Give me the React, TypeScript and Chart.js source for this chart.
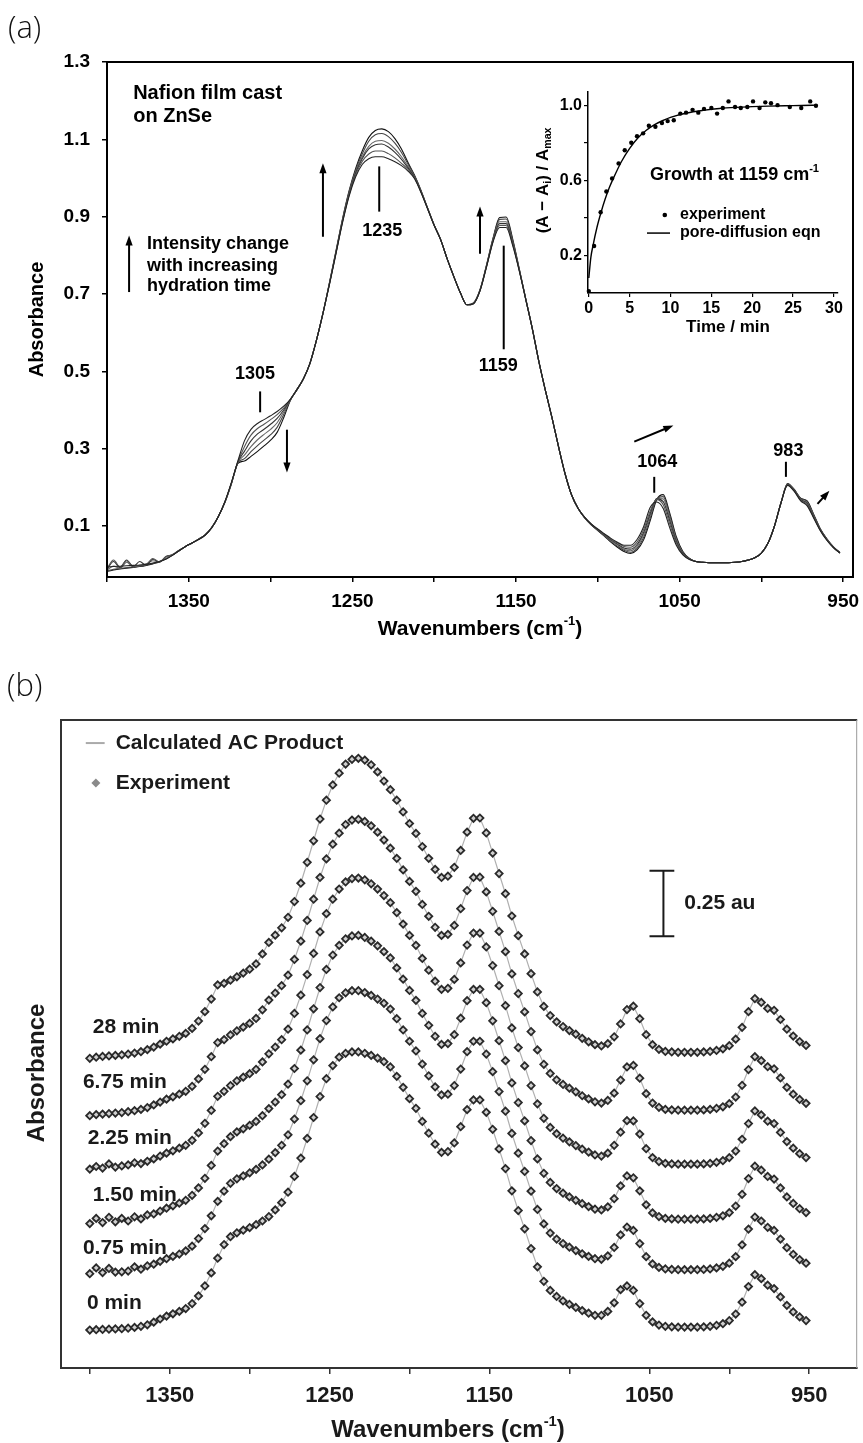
import React, { useEffect, useRef } from 'react';
import { Chart, registerables } from 'chart.js';
Chart.register(...registerables);

const FONT = '"Liberation Sans", Arial, Helvetica, sans-serif';
const f = (size: number, weight = 'bold') => `${weight} ${size}px ${FONT}`;

// ---------- shared spectral data (absorbance vs wavenumber) ----------
const wavenumbers = [
  1400, 1396, 1392, 1388, 1384, 1380, 1376, 1372, 1368, 1364,
  1360, 1356, 1352, 1348, 1344, 1340, 1336, 1332, 1328, 1324,
  1320, 1316, 1312, 1308, 1304, 1300, 1296, 1292, 1288, 1284,
  1280, 1276, 1272, 1268, 1264, 1260, 1256, 1252, 1248, 1244,
  1240, 1236, 1232, 1228, 1224, 1220, 1216, 1212, 1208, 1204,
  1200, 1196, 1192, 1188, 1184, 1180, 1176, 1172, 1168, 1164,
  1160, 1156, 1152, 1148, 1144, 1140, 1136, 1132, 1128, 1124,
  1120, 1116, 1112, 1108, 1104, 1100, 1096, 1092, 1088, 1084,
  1080, 1076, 1072, 1068, 1064, 1060, 1056, 1052, 1048, 1044,
  1040, 1036, 1032, 1028, 1024, 1020, 1016, 1012, 1008, 1004,
  1000, 996, 992, 988, 984, 980, 976, 972, 968, 964,
  960, 956, 952,
];

const spec0min = [
  -0.006, -0.005, -0.004, -0.003, -0.002, -0.001, 0.001, 0.004, 0.008, 0.014,
  0.024, 0.036, 0.047, 0.056, 0.065, 0.076, 0.095, 0.124, 0.162, 0.212,
  0.268, 0.32, 0.35, 0.365, 0.375, 0.385, 0.396, 0.41, 0.427, 0.452,
  0.48, 0.52, 0.58, 0.65, 0.725, 0.805, 0.885, 0.953, 1.003, 1.035,
  1.05, 1.055, 1.055, 1.05, 1.042, 1.032, 1.018, 0.998, 0.962, 0.92,
  0.877, 0.84, 0.79, 0.745, 0.703, 0.672, 0.675, 0.708, 0.77, 0.835,
  0.872, 0.872, 0.825, 0.76, 0.685, 0.61, 0.525, 0.45, 0.38, 0.305,
  0.235, 0.18, 0.145, 0.122, 0.105, 0.092, 0.08, 0.068, 0.058, 0.05,
  0.05, 0.065, 0.098, 0.148, 0.162, 0.145, 0.095, 0.05, 0.025, 0.013,
  0.008, 0.006, 0.005, 0.005, 0.005, 0.005, 0.006, 0.008, 0.012, 0.018,
  0.03, 0.055, 0.1, 0.16, 0.205, 0.19, 0.165, 0.152, 0.12, 0.088,
  0.063, 0.044, 0.03,
];
const spec075min = [
  -0.01, 0.012, -0.006, 0.01, -0.004, -0.003, 0.0, 0.016, 0.007, 0.02,
  0.026, 0.037, 0.047, 0.056, 0.065, 0.077, 0.095, 0.124, 0.162, 0.211,
  0.266, 0.305, 0.335, 0.352, 0.363, 0.375, 0.388, 0.405, 0.427, 0.452,
  0.48, 0.52, 0.58, 0.65, 0.726, 0.806, 0.887, 0.956, 1.008, 1.043,
  1.062, 1.07, 1.07, 1.063, 1.052, 1.038, 1.022, 1.0, 0.963, 0.92,
  0.877, 0.84, 0.79, 0.745, 0.703, 0.672, 0.675, 0.708, 0.771, 0.837,
  0.877, 0.877, 0.828, 0.761, 0.685, 0.61, 0.525, 0.45, 0.38, 0.305,
  0.235, 0.18, 0.145, 0.122, 0.105, 0.091, 0.078, 0.066, 0.056, 0.047,
  0.045, 0.058, 0.09, 0.138, 0.168, 0.155, 0.105, 0.055, 0.027, 0.014,
  0.008, 0.006, 0.005, 0.005, 0.005, 0.005, 0.006, 0.008, 0.012, 0.018,
  0.03, 0.055, 0.1, 0.16, 0.206, 0.191, 0.167, 0.155, 0.122, 0.089,
  0.064, 0.044, 0.03,
];
const spec150min = [
  -0.012, 0.008, -0.008, 0.012, -0.005, 0.008, -0.002, 0.014, 0.006, 0.021,
  0.025, 0.036, 0.047, 0.056, 0.066, 0.077, 0.096, 0.124, 0.161, 0.21,
  0.265, 0.293, 0.32, 0.338, 0.35, 0.363, 0.378, 0.4, 0.427, 0.452,
  0.48, 0.52, 0.58, 0.65, 0.727, 0.808, 0.889, 0.958, 1.013, 1.05,
  1.075, 1.086, 1.088, 1.08, 1.066, 1.048, 1.026, 1.002, 0.964, 0.921,
  0.878, 0.84, 0.79, 0.745, 0.703, 0.672, 0.675, 0.709, 0.772, 0.839,
  0.882, 0.882, 0.831, 0.762, 0.686, 0.61, 0.525, 0.45, 0.38, 0.305,
  0.235, 0.18, 0.145, 0.122, 0.104, 0.09, 0.077, 0.064, 0.053, 0.043,
  0.04, 0.052, 0.083, 0.132, 0.17, 0.163, 0.113, 0.06, 0.029, 0.015,
  0.008, 0.006, 0.005, 0.005, 0.005, 0.005, 0.006, 0.008, 0.012, 0.018,
  0.03, 0.055, 0.1, 0.16, 0.207, 0.192, 0.168, 0.158, 0.124, 0.09,
  0.065, 0.045, 0.03,
];
const spec225min = [
  -0.014, -0.004, -0.01, 0.006, -0.006, -0.002, 0.002, 0.01, 0.007, 0.016,
  0.025, 0.036, 0.047, 0.056, 0.066, 0.077, 0.096, 0.124, 0.161, 0.21,
  0.264, 0.283, 0.305, 0.323, 0.337, 0.35, 0.367, 0.395, 0.426, 0.452,
  0.48, 0.52, 0.58, 0.65, 0.728, 0.809, 0.891, 0.961, 1.016, 1.055,
  1.082, 1.095, 1.097, 1.09, 1.075, 1.055, 1.03, 1.003, 0.965, 0.921,
  0.878, 0.84, 0.79, 0.745, 0.703, 0.672, 0.676, 0.71, 0.773, 0.841,
  0.887, 0.887, 0.834, 0.763, 0.686, 0.61, 0.525, 0.45, 0.38, 0.305,
  0.235, 0.18, 0.145, 0.121, 0.104, 0.09, 0.076, 0.062, 0.051, 0.04,
  0.036, 0.047, 0.077, 0.127, 0.171, 0.17, 0.12, 0.064, 0.03, 0.015,
  0.008, 0.006, 0.005, 0.005, 0.005, 0.005, 0.006, 0.008, 0.012, 0.018,
  0.03, 0.055, 0.1, 0.16, 0.208, 0.193, 0.169, 0.16, 0.126, 0.091,
  0.066, 0.045, 0.03,
];
const spec675min = [
  -0.016, -0.012, -0.01, -0.008, -0.006, -0.004, -0.001, 0.003, 0.008, 0.015,
  0.025, 0.036, 0.047, 0.056, 0.066, 0.077, 0.096, 0.124, 0.161, 0.209,
  0.263, 0.274, 0.292, 0.308, 0.322, 0.336, 0.355, 0.388, 0.425, 0.452,
  0.48, 0.52, 0.58, 0.65, 0.729, 0.81, 0.893, 0.964, 1.02, 1.062,
  1.095, 1.112, 1.115, 1.107, 1.09, 1.066, 1.036, 1.005, 0.966, 0.922,
  0.878, 0.84, 0.79, 0.745, 0.703, 0.672, 0.676, 0.71, 0.774, 0.843,
  0.893, 0.894, 0.838, 0.764, 0.687, 0.61, 0.525, 0.45, 0.38, 0.305,
  0.235, 0.18, 0.145, 0.121, 0.103, 0.089, 0.075, 0.06, 0.048, 0.037,
  0.032, 0.042, 0.07, 0.12, 0.17, 0.176, 0.127, 0.068, 0.032, 0.016,
  0.008, 0.006, 0.005, 0.005, 0.005, 0.005, 0.006, 0.008, 0.012, 0.018,
  0.03, 0.055, 0.1, 0.16, 0.209, 0.194, 0.171, 0.163, 0.128, 0.092,
  0.066, 0.046, 0.031,
];
const spec28min = [
  -0.018, -0.014, -0.011, -0.009, -0.007, -0.005, -0.002, 0.002, 0.007, 0.015,
  0.025, 0.036, 0.047, 0.056, 0.066, 0.077, 0.096, 0.124, 0.16, 0.208,
  0.262, 0.268, 0.28, 0.293, 0.307, 0.322, 0.342, 0.38, 0.424, 0.452,
  0.48, 0.52, 0.58, 0.65, 0.73, 0.812, 0.895, 0.967, 1.025, 1.07,
  1.105, 1.123, 1.127, 1.12, 1.102, 1.075, 1.04, 1.007, 0.967, 0.922,
  0.878, 0.84, 0.79, 0.745, 0.703, 0.672, 0.677, 0.711, 0.775, 0.845,
  0.898, 0.899, 0.842, 0.765, 0.687, 0.61, 0.525, 0.45, 0.38, 0.305,
  0.235, 0.18, 0.145, 0.121, 0.103, 0.088, 0.074, 0.058, 0.045, 0.034,
  0.029, 0.038, 0.064, 0.113, 0.168, 0.181, 0.133, 0.072, 0.034, 0.016,
  0.008, 0.006, 0.005, 0.005, 0.005, 0.005, 0.006, 0.008, 0.012, 0.018,
  0.03, 0.055, 0.1, 0.16, 0.21, 0.195, 0.172, 0.165, 0.13, 0.093,
  0.067, 0.046, 0.031,
];

const spectra = [spec0min, spec075min, spec150min, spec225min, spec675min, spec28min];
const timeLabels = ['0 min', '0.75 min', '1.50 min', '2.25 min', '6.75 min', '28 min'];
const stackOffsetsB = [0.151, 0.37, 0.563, 0.773, 0.979, 1.2];

// ---------- axes ----------
const xTickValuesA = [1400, 1350, 1300, 1250, 1200, 1150, 1100, 1050, 1000, 950];
const xTickLabels = [1350, 1250, 1150, 1050, 950];
const yTickValuesA = [0.1, 0.3, 0.5, 0.7, 0.9, 1.1, 1.3];

// ---------- inset: growth at 1159 cm-1 ----------
const expTime = [0, 0.65, 1.45, 2.15, 2.85, 3.65, 4.4, 5.2, 5.9, 6.65, 7.35, 8.15, 8.95, 9.65, 10.4, 11.2, 11.9, 12.7, 13.4, 14.1, 15.0, 15.7, 16.4, 17.1, 17.9, 18.6, 19.4, 20.1, 20.9, 21.6, 22.3, 23.1, 24.6, 26.0, 27.1, 27.8];
const expValue = [0.01, 0.25, 0.43, 0.54, 0.61, 0.69, 0.76, 0.8, 0.835, 0.85, 0.89, 0.885, 0.905, 0.915, 0.92, 0.955, 0.96, 0.975, 0.96, 0.98, 0.985, 0.955, 0.985, 1.02, 0.99, 0.985, 0.99, 1.02, 0.985, 1.015, 1.01, 1.0, 0.99, 0.985, 1.02, 0.997];
const fitTime = [0, 0.25, 0.5, 1, 1.5, 2, 2.5, 3, 4, 5, 6, 7, 8, 9, 10, 12, 14, 16, 18, 20, 22, 24, 26, 28];
const fitValue = [0.08, 0.19, 0.25, 0.35, 0.43, 0.5, 0.56, 0.61, 0.7, 0.77, 0.825, 0.865, 0.895, 0.917, 0.935, 0.958, 0.972, 0.982, 0.988, 0.992, 0.995, 0.997, 0.998, 1.0];
const insetXTicks = [0, 5, 10, 15, 20, 25, 30];
const insetYTicks = [0.2, 0.4, 0.6, 0.8, 1.0];
const insetYLabels = [0.2, 0.6, 1.0];

// ---------- annotations (data coordinates) ----------
const annotTextsA = [
  { text: 'Nafion film cast', w: 1384, a: 1.219, size: 20, align: 'left' },
  { text: 'on ZnSe', w: 1384, a: 1.16, size: 20, align: 'left' },
  { text: 'Intensity change', w: 1375.5, a: 0.83, size: 18, align: 'left' },
  { text: 'with increasing', w: 1375.5, a: 0.773, size: 18, align: 'left' },
  { text: 'hydration time', w: 1375.5, a: 0.72, size: 18, align: 'left' },
  { text: '1235', w: 1231.8, a: 0.864, size: 18, align: 'center' },
  { text: '1159', w: 1160.9, a: 0.513, size: 18, align: 'center' },
  { text: '1305', w: 1309.5, a: 0.492, size: 18, align: 'center' },
  { text: '1064', w: 1063.6, a: 0.266, size: 18, align: 'center' },
  { text: '983', w: 983.5, a: 0.295, size: 18, align: 'center' },
];
const peakTicksA = [
  { w: 1233.6, a1: 1.03, a2: 0.913 },
  { w: 1157.5, a1: 0.825, a2: 0.557 },
  { w: 1306.4, a1: 0.448, a2: 0.394 },
  { w: 1065.5, a1: 0.227, a2: 0.186 },
  { w: 985, a1: 0.266, a2: 0.227 },
];
const arrowsA = [
  { w1: 1386.5, a1: 0.705, w2: 1386.5, a2: 0.851 },
  { w1: 1268, a1: 0.848, w2: 1268, a2: 1.038 },
  { w1: 1172, a1: 0.804, w2: 1172, a2: 0.926 },
  { w1: 1290, a1: 0.349, w2: 1290, a2: 0.238 },
  { w1: 1077.7, a1: 0.318, w2: 1053.8, a2: 0.36 },
  { w1: 965.7, a1: 0.157, w2: 958.4, a2: 0.191 },
];
const timeLabelPosB = [
  { w: 1401.8, a: 0.248 },
  { w: 1404.3, a: 0.458 },
  { w: 1398.1, a: 0.66 },
  { w: 1401.2, a: 0.878 },
  { w: 1404.3, a: 1.092 },
  { w: 1398.1, a: 1.302 },
];

type Part = [string, number];
function drawRich(ctx: CanvasRenderingContext2D, parts: Part[], x: number, y: number, size: number, align = 'center', color = '#000') {
  const widths = parts.map(([t, m]) => {
    ctx.font = f(m ? size * 0.62 : size);
    return ctx.measureText(t).width;
  });
  const total = widths.reduce((p, c) => p + c, 0);
  let cx = align === 'center' ? x - total / 2 : align === 'right' ? x - total : x;
  ctx.textAlign = 'left';
  ctx.textBaseline = 'middle';
  ctx.fillStyle = color;
  parts.forEach(([t, m], i) => {
    ctx.font = f(m ? size * 0.62 : size);
    const dy = m === 1 ? -size * 0.34 : m === -1 ? size * 0.3 : 0;
    ctx.fillText(t, cx, y + dy);
    cx += widths[i];
  });
}

function drawArrow(ctx: CanvasRenderingContext2D, x1: number, y1: number, x2: number, y2: number, head = 10, half = 3.6, lw = 2) {
  const ang = Math.atan2(y2 - y1, x2 - x1);
  const c = Math.cos(ang), s = Math.sin(ang);
  ctx.lineWidth = lw;
  ctx.beginPath();
  ctx.moveTo(x1, y1);
  ctx.lineTo(x2 - c * head * 0.8, y2 - s * head * 0.8);
  ctx.stroke();
  ctx.beginPath();
  ctx.moveTo(x2, y2);
  ctx.lineTo(x2 - head * c + half * s, y2 - head * s - half * c);
  ctx.lineTo(x2 - head * c - half * s, y2 - head * s + half * c);
  ctx.closePath();
  ctx.fill();
}

const panelAPlugin = {
  id: 'panelA',
  afterDraw(chart: any) {
    const { ctx, chartArea: ca, scales } = chart;
    const X = (w: number) => scales.x.getPixelForValue(w);
    const Y = (a: number) => scales.y.getPixelForValue(a);
    ctx.save();
    ctx.strokeStyle = '#000';
    ctx.fillStyle = '#000';
    ctx.lineWidth = 2;
    ctx.strokeRect(ca.left, ca.top, ca.right - ca.left, ca.bottom - ca.top);
    annotTextsA.forEach((t) => {
      ctx.font = f(t.size);
      ctx.textAlign = t.align;
      ctx.textBaseline = 'middle';
      ctx.fillText(t.text, X(t.w), Y(t.a));
    });
    ctx.lineWidth = 2;
    peakTicksA.forEach((p) => {
      ctx.beginPath();
      ctx.moveTo(X(p.w), Y(p.a1));
      ctx.lineTo(X(p.w), Y(p.a2));
      ctx.stroke();
    });
    arrowsA.forEach((r) => drawArrow(ctx, X(r.w1), Y(r.a1), X(r.w2), Y(r.a2)));
    ctx.save();
    ctx.translate(37, (ca.top + ca.bottom) / 2);
    ctx.rotate(-Math.PI / 2);
    drawRich(ctx, [['Absorbance', 0]], 0, 0, 20);
    ctx.restore();
    drawRich(ctx, [['Wavenumbers (cm', 0], ['-1', 1], [')', 0]], (ca.left + ca.right) / 2, 629, 21);
    ctx.restore();
  },
};

const insetPlugin = {
  id: 'inset',
  afterDraw(chart: any) {
    const { ctx, chartArea: ca, scales } = chart;
    const X = (t: number) => scales.x.getPixelForValue(t);
    const Y = (v: number) => scales.y.getPixelForValue(v);
    ctx.save();
    ctx.fillStyle = '#000';
    ctx.strokeStyle = '#000';
    drawRich(ctx, [['Growth at 1159 cm', 0], ['-1', 1]], X(7.5), Y(0.628), 18, 'left');
    ctx.beginPath();
    ctx.arc(X(9.3), Y(0.415), 2.3, 0, Math.PI * 2);
    ctx.fill();
    drawRich(ctx, [['experiment', 0]], X(11.16), Y(0.415), 16, 'left');
    ctx.lineWidth = 1.5;
    ctx.beginPath();
    ctx.moveTo(X(7.12), Y(0.319));
    ctx.lineTo(X(9.94), Y(0.319));
    ctx.stroke();
    drawRich(ctx, [['pore-diffusion eqn', 0]], X(11.16), Y(0.319), 16, 'left');
    ctx.save();
    ctx.translate(73, (ca.top + ca.bottom) / 2 - 12);
    ctx.rotate(-Math.PI / 2);
    drawRich(ctx, [['(A \u2212 A', 0], ['i', -1], [') / A', 0], ['max', -1]], 0, 0, 17);
    ctx.restore();
    drawRich(ctx, [['Time / min', 0]], 258, 257, 17);
    ctx.restore();
  },
};

const panelBPlugin = {
  id: 'panelB',
  afterDraw(chart: any) {
    const { ctx, chartArea: ca, scales } = chart;
    const X = (w: number) => scales.x.getPixelForValue(w);
    const Y = (a: number) => scales.y.getPixelForValue(a);
    ctx.save();
    ctx.strokeStyle = '#333';
    ctx.lineWidth = 2;
    ctx.beginPath();
    ctx.moveTo(ca.right, ca.top);
    ctx.lineTo(ca.left, ca.top);
    ctx.lineTo(ca.left, ca.bottom);
    ctx.lineTo(ca.right, ca.bottom);
    ctx.stroke();
    ctx.strokeStyle = '#999';
    ctx.lineWidth = 1;
    ctx.beginPath();
    ctx.moveTo(ca.right - 0.5, ca.top);
    ctx.lineTo(ca.right - 0.5, ca.bottom);
    ctx.stroke();
    // time labels
    timeLabels.forEach((t, k) => {
      drawRich(ctx, [[t, 0]], X(timeLabelPosB[k].w), Y(timeLabelPosB[k].a), 21, 'left', '#1a1a1a');
    });
    // legend
    ctx.strokeStyle = '#aaa';
    ctx.lineWidth = 2;
    ctx.beginPath();
    ctx.moveTo(X(1402.5), Y(2.385));
    ctx.lineTo(X(1390.7), Y(2.385));
    ctx.stroke();
    drawRich(ctx, [['Calculated AC Product', 0]], X(1383.8), Y(2.385), 21, 'left', '#1a1a1a');
    const dx = X(1396.2), dy = Y(2.233);
    ctx.fillStyle = '#8a8a8a';
    ctx.beginPath();
    ctx.moveTo(dx, dy - 4.5);
    ctx.lineTo(dx + 4.5, dy);
    ctx.lineTo(dx, dy + 4.5);
    ctx.lineTo(dx - 4.5, dy);
    ctx.closePath();
    ctx.fill();
    drawRich(ctx, [['Experiment', 0]], X(1383.8), Y(2.233), 21, 'left', '#1a1a1a');
    // scale bar 0.25 au
    ctx.strokeStyle = '#1a1a1a';
    ctx.lineWidth = 2;
    const bx = X(1041.2), c1 = X(1049.9), c2 = X(1034.4);
    const yb1 = Y(1.648), yb2 = Y(1.898);
    ctx.beginPath();
    ctx.moveTo(bx, yb1); ctx.lineTo(bx, yb2);
    ctx.moveTo(c1, yb1); ctx.lineTo(c2, yb1);
    ctx.moveTo(c1, yb2); ctx.lineTo(c2, yb2);
    ctx.stroke();
    drawRich(ctx, [['0.25 au', 0]], X(1028.2), Y(1.775), 21, 'left', '#1a1a1a');
    // titles
    ctx.save();
    ctx.translate(37, 373);
    ctx.rotate(-Math.PI / 2);
    drawRich(ctx, [['Absorbance', 0]], 0, 0, 24, 'center', '#1a1a1a');
    ctx.restore();
    drawRich(ctx, [['Wavenumbers (cm', 0], ['-1', 1], [')', 0]], 448, 730, 24, 'center', '#1a1a1a');
    ctx.restore();
  },
};

const lineColorsA = ['#222', '#555', '#333', '#666', '#444', '#111'];

export default function App() {
  const refA = useRef<HTMLCanvasElement>(null);
  const refIn = useRef<HTMLCanvasElement>(null);
  const refB = useRef<HTMLCanvasElement>(null);

  useEffect(() => {
    const charts: Chart[] = [];
    const tickFontA = { family: FONT, size: 19, weight: 'bold' as const };

    charts.push(
      new Chart(refA.current as HTMLCanvasElement, {
        type: 'line',
        data: {
          datasets: spectra.map((s, k) => ({
            label: timeLabels[k],
            data: wavenumbers.map((w, i) => ({ x: w, y: s[i] })),
            borderColor: lineColorsA[k],
            borderWidth: 1.1,
            pointRadius: 0,
            cubicInterpolationMode: 'monotone' as const,
          })),
        },
        options: {
          responsive: false,
          animation: false,
          events: [],
          layout: { padding: { left: 0, right: 10, top: 62, bottom: 0 } },
          plugins: { legend: { display: false }, tooltip: { enabled: false } },
          scales: {
            x: {
              type: 'linear',
              reverse: true,
              min: 944,
              max: 1400,
              afterBuildTicks: (s: any) => { s.ticks = xTickValuesA.map((v) => ({ value: v })); },
              afterFit: (s: any) => { s.height = 73; s.paddingLeft = 0; s.paddingRight = 0; },
              grid: { drawOnChartArea: false, drawTicks: true, tickLength: 5, color: '#000', lineWidth: 1.5 },
              border: { display: true, color: '#000', width: 2 },
              ticks: {
                autoSkip: false, maxRotation: 0, padding: 8, color: '#000', font: tickFontA,
                callback: (v: any) => (xTickLabels.includes(Number(v)) ? String(v) : ''),
              },
            },
            y: {
              min: -0.032,
              max: 1.3,
              afterBuildTicks: (s: any) => { s.ticks = yTickValuesA.map((v) => ({ value: v })); },
              afterFit: (s: any) => { s.width = 107; s.paddingTop = 0; s.paddingBottom = 0; },
              grid: { drawOnChartArea: false, drawTicks: true, tickLength: 5, color: '#000', lineWidth: 1.5 },
              border: { display: true, color: '#000', width: 2 },
              ticks: { padding: 12, color: '#000', font: tickFontA, callback: (v: any) => Number(v).toFixed(1) },
            },
          },
        },
        plugins: [panelAPlugin],
      } as any)
    );

    const tickFontIn = { family: FONT, size: 16, weight: 'bold' as const };
    charts.push(
      new Chart(refIn.current as HTMLCanvasElement, {
        type: 'scatter',
        data: {
          datasets: [
            {
              label: 'experiment',
              data: expTime.map((t, i) => ({ x: t, y: expValue[i] })),
              pointRadius: 2.2,
              pointBackgroundColor: '#000',
              pointBorderWidth: 0,
              showLine: false,
              clip: false,
            },
            {
              label: 'pore-diffusion eqn',
              data: fitTime.map((t, i) => ({ x: t, y: fitValue[i] })),
              showLine: true,
              pointRadius: 0,
              borderColor: '#000',
              borderWidth: 1.4,
              cubicInterpolationMode: 'monotone',
            },
          ],
        },
        options: {
          responsive: false,
          animation: false,
          events: [],
          layout: { padding: { left: 0, right: 12, top: 22, bottom: 0 } },
          plugins: { legend: { display: false }, tooltip: { enabled: false } },
          scales: {
            x: {
              type: 'linear', min: -0.1, max: 30.5,
              afterBuildTicks: (s: any) => { s.ticks = insetXTicks.map((v) => ({ value: v })); },
              afterFit: (s: any) => { s.height = 57; s.paddingLeft = 0; s.paddingRight = 0; },
              grid: { drawOnChartArea: false, drawTicks: true, tickLength: 4, color: '#000', lineWidth: 1.2 },
              border: { display: true, color: '#000', width: 1.5 },
              ticks: { autoSkip: false, maxRotation: 0, padding: 2, color: '#000', font: tickFontIn },
            },
            y: {
              min: 0, max: 1.07,
              afterBuildTicks: (s: any) => { s.ticks = insetYTicks.map((v) => ({ value: v })); },
              afterFit: (s: any) => { s.width = 118; s.paddingTop = 0; s.paddingBottom = 0; },
              grid: { drawOnChartArea: false, drawTicks: true, tickLength: 4, color: '#000', lineWidth: 1.2 },
              border: { display: true, color: '#000', width: 1.5 },
              ticks: {
                padding: 2, color: '#000', font: tickFontIn,
                callback: (v: any) => (insetYLabels.some((l) => Math.abs(l - Number(v)) < 1e-6) ? Number(v).toFixed(1) : ''),
              },
            },
          },
        },
        plugins: [insetPlugin],
      } as any)
    );

    const tickFontB = { family: FONT, size: 22, weight: 'bold' as const };
    charts.push(
      new Chart(refB.current as HTMLCanvasElement, {
        type: 'line',
        data: {
          datasets: spectra.map((s, k) => ({
            label: timeLabels[k],
            data: wavenumbers.map((w, i) => ({ x: w, y: s[i] + stackOffsetsB[k] })),
            borderColor: '#b0b0b0',
            borderWidth: 1.2,
            pointStyle: 'rectRot',
            pointRadius: 3.6,
            pointBorderColor: '#2a2a2a',
            pointBorderWidth: 1.8,
            pointBackgroundColor: '#cfcfcf',
            tension: 0,
          })),
        },
        options: {
          responsive: false,
          animation: false,
          events: [],
          layout: { padding: { left: 0, right: 1, top: 20, bottom: 0 } },
          plugins: { legend: { display: false }, tooltip: { enabled: false } },
          scales: {
            x: {
              type: 'linear', reverse: true, min: 920, max: 1418,
              afterBuildTicks: (s: any) => { s.ticks = xTickValuesA.map((v) => ({ value: v })); },
              afterFit: (s: any) => { s.height = 75; s.paddingLeft = 0; s.paddingRight = 0; },
              grid: { drawOnChartArea: false, drawTicks: true, tickLength: 6, color: '#333', lineWidth: 1.5 },
              border: { display: true, color: '#333', width: 2 },
              ticks: {
                autoSkip: false, maxRotation: 0, padding: 9, color: '#1a1a1a', font: tickFontB,
                callback: (v: any) => (xTickLabels.includes(Number(v)) ? String(v) : ''),
              },
            },
            y: {
              min: 0, max: 2.473,
              afterFit: (s: any) => { s.width = 61; s.paddingTop = 0; s.paddingBottom = 0; },
              grid: { drawOnChartArea: false, drawTicks: false },
              border: { display: true, color: '#333', width: 2 },
              ticks: { display: false },
            },
          },
        },
        plugins: [panelBPlugin],
      } as any)
    );

    return () => charts.forEach((c) => c.destroy());
  }, []);

  const panelLabel: React.CSSProperties = {
    position: 'absolute',
    font: '300 31px "Open Sans", Lato, "Noto Sans", sans-serif',
    lineHeight: '32px',
    color: '#111',
  };

  return (
    <div style={{ position: 'absolute', left: 0, top: 0, width: 863, height: 1443, background: '#fff', overflow: 'hidden' }}>
      <canvas ref={refA} width={863} height={650} style={{ position: 'absolute', left: 0, top: 0 }} />
      <canvas ref={refIn} width={380} height={280} style={{ position: 'absolute', left: 470, top: 70 }} />
      <canvas ref={refB} width={863} height={743} style={{ position: 'absolute', left: 0, top: 700 }} />
      <div style={{ ...panelLabel, left: 8, top: 10 }}>(a)</div>
      <div style={{ ...panelLabel, left: 7, top: 668 }}>(b)</div>
    </div>
  );
}
